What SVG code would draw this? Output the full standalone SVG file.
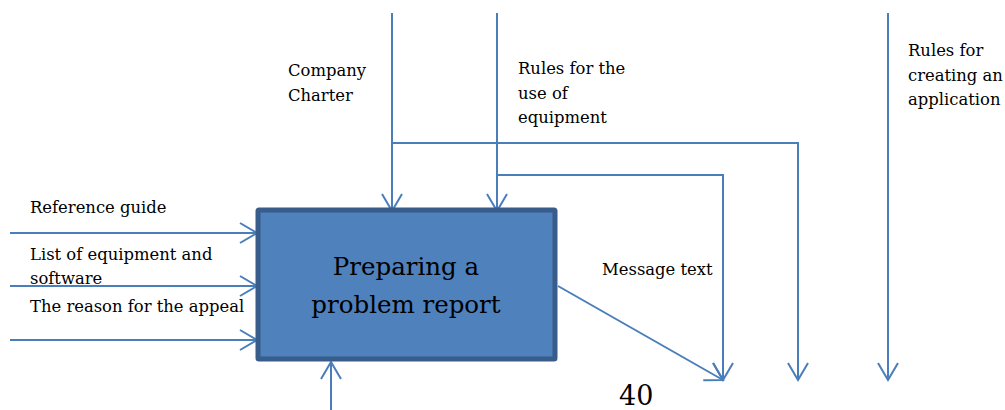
<svg xmlns="http://www.w3.org/2000/svg" width="1005" height="410" viewBox="0 0 1005 410">
  <style>
    text { font-family: 'DejaVu Serif', 'Liberation Serif', serif; fill: #000; }
    .lbl { font-size: 16.4px; }
    .title { font-size: 24.5px; text-anchor: middle; }
    .conn { fill: none; stroke: #4a7ebb; stroke-width: 2; marker-end: url(#open); }
  </style>
  <defs>
    <marker id="open" markerUnits="userSpaceOnUse" markerWidth="40" markerHeight="40" viewBox="-20 -20 40 40" refX="0" refY="0" orient="auto">
      <path d="M-17,-10 L0,0 L-17,10" fill="none" stroke="#4a7ebb" stroke-width="2"/>
    </marker>
  </defs>

  <rect width="1005" height="410" fill="#fff"/>

  <!-- connectors -->
  <g id="connectors">
    <!-- inputs -->
    <line class="conn" x1="10" y1="233" x2="257" y2="233"/>
    <line class="conn" x1="10" y1="286" x2="257" y2="286"/>
    <line class="conn" x1="10" y1="340" x2="257" y2="340"/>
    <!-- controls into the box -->
    <line class="conn" x1="392" y1="13" x2="392" y2="211"/>
    <line class="conn" x1="497" y1="13" x2="497" y2="211"/>
    <!-- branches of the controls -->
    <polyline class="conn" points="392,143 798,143 798,380"/>
    <polyline class="conn" points="497,175 723,175 723,380"/>
    <!-- separate control -->
    <line class="conn" x1="888" y1="13" x2="888" y2="380"/>
    <!-- output -->
    <line class="conn" x1="558" y1="286" x2="723" y2="380"/>
    <!-- mechanism -->
    <line class="conn" x1="331" y1="410" x2="331" y2="362"/>
  </g>

  <!-- activity box -->
  <g id="activity">
    <rect x="258" y="210" width="297" height="149" fill="#4f81bd" stroke="#385d8a" stroke-width="5" rx="1"/>
    <text class="title" x="406" y="275">Preparing a</text>
    <text class="title" x="406" y="313">problem report</text>
  </g>

  <g id="label-reference">
    <text class="lbl" x="30" y="213">Reference guide</text>
  </g>
  <g id="label-list">
    <text class="lbl" x="30" y="260">List of equipment and</text>
    <text class="lbl" x="30" y="284">software</text>
  </g>
  <g id="label-reason">
    <text class="lbl" x="30" y="312">The reason for the appeal</text>
  </g>
  <g id="label-charter">
    <text class="lbl" x="288" y="76">Company</text>
    <text class="lbl" x="288" y="101">Charter</text>
  </g>
  <g id="label-equipment-rules">
    <text class="lbl" x="518" y="74">Rules for the</text>
    <text class="lbl" x="518" y="99">use of</text>
    <text class="lbl" x="518" y="123">equipment</text>
  </g>
  <g id="label-application-rules">
    <text class="lbl" x="908" y="56">Rules for</text>
    <text class="lbl" x="908" y="81">creating an</text>
    <text class="lbl" x="908" y="105">application</text>
  </g>
  <g id="label-message">
    <text class="lbl" x="602" y="275">Message text</text>
  </g>
  <g id="page-number">
    <text x="619" y="405" style="font-size:27px">40</text>
  </g>
</svg>
